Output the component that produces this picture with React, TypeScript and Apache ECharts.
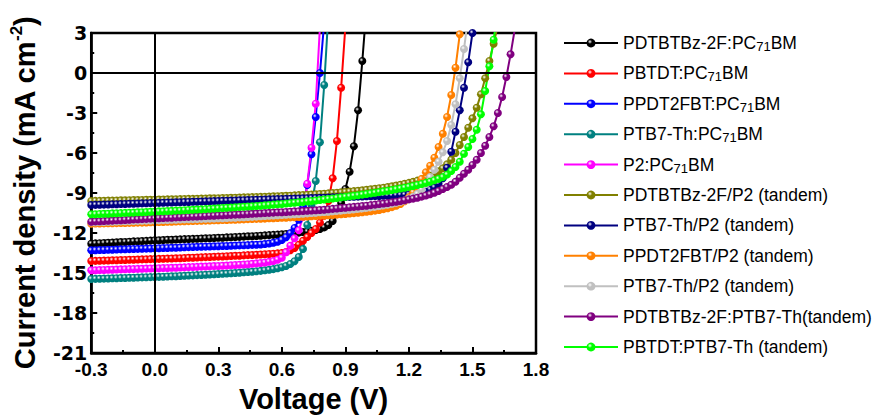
import React, { useEffect, useRef } from "react";
import * as echarts from "echarts";

// Voltage grid (V)
const VOLTAGE = [
  -0.3, -0.28, -0.26, -0.24, -0.22, -0.2, -0.18, -0.16, -0.14, -0.12,
  -0.1, -0.08, -0.06, -0.04, -0.02, 0.0, 0.02, 0.04, 0.06, 0.08,
  0.1, 0.12, 0.14, 0.16, 0.18, 0.2, 0.22, 0.24, 0.26, 0.28,
  0.3, 0.32, 0.34, 0.36, 0.38, 0.4, 0.42, 0.44, 0.46, 0.48,
  0.5, 0.52, 0.54, 0.56, 0.58, 0.6, 0.62, 0.64, 0.66, 0.68,
  0.7, 0.72, 0.74, 0.76, 0.78, 0.8, 0.82, 0.84, 0.86, 0.88,
  0.9, 0.92, 0.94, 0.96, 0.98, 1.0, 1.02, 1.04, 1.06, 1.08,
  1.1, 1.12, 1.14, 1.16, 1.18, 1.2, 1.22, 1.24, 1.26, 1.28,
  1.3, 1.32, 1.34, 1.36, 1.38, 1.4, 1.42, 1.44, 1.46, 1.48,
  1.5, 1.52, 1.54, 1.56, 1.58, 1.6, 1.62, 1.64, 1.66, 1.68,
  1.7,
];

// Current density (mA cm-2), one value per voltage step
const J_PDTBTBZ_PC71BM = [
  -12.8, -12.78, -12.77, -12.75, -12.73, -12.72, -12.7, -12.68, -12.67, -12.65,
  -12.63, -12.62, -12.6, -12.59, -12.57, -12.55, -12.54, -12.53, -12.51, -12.5,
  -12.49, -12.48, -12.46, -12.45, -12.44, -12.43, -12.41, -12.4, -12.39, -12.37,
  -12.36, -12.35, -12.33, -12.32, -12.3, -12.29, -12.27, -12.25, -12.24, -12.22,
  -12.2, -12.18, -12.16, -12.14, -12.12, -12.1, -12.07, -12.04, -12.01, -11.97,
  -11.93, -11.89, -11.84, -11.78, -11.7, -11.58, -11.4, -11.1, -10.55, -9.75,
  -8.7, -7.4, -5.5, -2.8, 0.9, 5.0,
];
const J_PBTDT_PC71BM = [
  -14.1, -14.09, -14.08, -14.07, -14.06, -14.05, -14.04, -14.03, -14.02, -14.01,
  -14.0, -13.99, -13.98, -13.97, -13.96, -13.95, -13.94, -13.93, -13.92, -13.91,
  -13.9, -13.89, -13.88, -13.86, -13.85, -13.84, -13.82, -13.81, -13.8, -13.78,
  -13.77, -13.76, -13.74, -13.73, -13.71, -13.7, -13.68, -13.66, -13.65, -13.63,
  -13.61, -13.59, -13.57, -13.55, -13.53, -13.5, -13.42, -13.3, -13.12, -12.88,
  -12.58, -12.3, -12.0, -11.7, -11.22, -10.7, -9.6, -7.9, -5.1, -1.1,
  3.5,
];
const J_PPDT2FBT_PC71BM = [
  -13.3, -13.29, -13.28, -13.27, -13.26, -13.25, -13.24, -13.23, -13.22, -13.21,
  -13.2, -13.19, -13.18, -13.17, -13.16, -13.15, -13.14, -13.13, -13.12, -13.11,
  -13.1, -13.09, -13.07, -13.06, -13.05, -13.04, -13.03, -13.02, -13.01, -13.0,
  -12.99, -12.98, -12.97, -12.96, -12.94, -12.93, -12.92, -12.91, -12.89, -12.88,
  -12.86, -12.83, -12.79, -12.73, -12.65, -12.52, -12.32, -12.02, -11.62, -11.0,
  -10.0, -8.4, -6.1, -3.3, 0.0, 3.8,
];
const J_PTB7TH_PC71BM = [
  -15.45, -15.44, -15.43, -15.42, -15.41, -15.4, -15.39, -15.38, -15.37, -15.36,
  -15.35, -15.34, -15.33, -15.32, -15.31, -15.3, -15.29, -15.28, -15.26, -15.25,
  -15.24, -15.22, -15.21, -15.19, -15.18, -15.16, -15.15, -15.13, -15.11, -15.1,
  -15.08, -15.06, -15.04, -15.02, -15.0, -14.98, -14.95, -14.93, -14.9, -14.87,
  -14.84, -14.8, -14.76, -14.71, -14.65, -14.57, -14.47, -14.33, -14.12, -13.8,
  -13.2, -11.4, -9.9, -8.1, -5.2, -0.9, 4.5,
];
const J_P2_PC71BM = [
  -14.8, -14.79, -14.78, -14.77, -14.76, -14.75, -14.74, -14.73, -14.72, -14.71,
  -14.7, -14.69, -14.68, -14.67, -14.66, -14.65, -14.64, -14.63, -14.62, -14.61,
  -14.6, -14.59, -14.58, -14.56, -14.55, -14.54, -14.52, -14.51, -14.5, -14.48,
  -14.47, -14.45, -14.44, -14.42, -14.4, -14.38, -14.36, -14.34, -14.31, -14.28,
  -14.25, -14.21, -14.16, -14.1, -14.0, -13.85, -13.45, -12.95, -12.4, -11.8,
  -10.8, -8.3, -5.6, -2.3, 3.5,
];
const J_PDTBTBZ_P2_TANDEM = [
  -9.6, -9.59, -9.59, -9.58, -9.57, -9.57, -9.56, -9.55, -9.55, -9.54,
  -9.53, -9.53, -9.52, -9.51, -9.51, -9.5, -9.49, -9.49, -9.48, -9.47,
  -9.47, -9.46, -9.45, -9.44, -9.44, -9.43, -9.42, -9.41, -9.4, -9.4,
  -9.39, -9.38, -9.37, -9.36, -9.35, -9.34, -9.33, -9.32, -9.31, -9.3,
  -9.29, -9.28, -9.27, -9.25, -9.24, -9.23, -9.21, -9.2, -9.18, -9.16,
  -9.15, -9.13, -9.11, -9.09, -9.07, -9.05, -9.03, -9.0, -8.98, -8.95,
  -8.92, -8.89, -8.86, -8.83, -8.8, -8.76, -8.72, -8.68, -8.64, -8.6,
  -8.55, -8.5, -8.44, -8.38, -8.31, -8.24, -8.16, -8.07, -7.97, -7.85,
  -7.7, -7.55, -7.38, -7.15, -6.85, -6.5, -6.0, -5.4, -4.8, -4.1,
  -3.4, -2.6, -1.6, -0.4, 0.9, 2.2, 3.6,
];
const J_PTB7TH_P2_TANDEM_A = [
  -9.9, -9.89, -9.88, -9.87, -9.86, -9.85, -9.84, -9.83, -9.82, -9.81,
  -9.8, -9.79, -9.78, -9.77, -9.76, -9.75, -9.74, -9.73, -9.72, -9.71,
  -9.7, -9.69, -9.68, -9.67, -9.66, -9.65, -9.64, -9.63, -9.62, -9.61,
  -9.6, -9.59, -9.58, -9.57, -9.56, -9.55, -9.54, -9.53, -9.52, -9.51,
  -9.5, -9.49, -9.48, -9.47, -9.46, -9.45, -9.44, -9.43, -9.42, -9.41,
  -9.4, -9.39, -9.38, -9.37, -9.36, -9.35, -9.34, -9.33, -9.32, -9.31,
  -9.3, -9.29, -9.28, -9.27, -9.26, -9.25, -9.24, -9.23, -9.22, -9.21,
  -9.2, -9.19, -9.17, -9.15, -9.13, -9.1, -9.06, -9.01, -8.94, -8.85,
  -8.73, -8.57, -8.3, -7.9, -7.1, -5.9, -4.4, -2.8, -1.1, 0.8,
  3.0, 5.3,
];
const J_PPDT2FBT_P2_TANDEM = [
  -11.3, -11.29, -11.29, -11.28, -11.27, -11.27, -11.26, -11.25, -11.25, -11.24,
  -11.23, -11.22, -11.22, -11.21, -11.2, -11.19, -11.18, -11.17, -11.16, -11.15,
  -11.14, -11.13, -11.12, -11.11, -11.1, -11.09, -11.08, -11.07, -11.06, -11.05,
  -11.04, -11.03, -11.02, -11.01, -11.0, -10.99, -10.98, -10.96, -10.95, -10.94,
  -10.93, -10.92, -10.9, -10.89, -10.88, -10.86, -10.85, -10.83, -10.82, -10.8,
  -10.78, -10.77, -10.75, -10.73, -10.71, -10.69, -10.67, -10.65, -10.62, -10.6,
  -10.57, -10.54, -10.51, -10.48, -10.45, -10.41, -10.37, -10.32, -10.27, -10.21,
  -10.14, -10.06, -9.96, -9.82, -9.62, -9.32, -8.95, -8.5, -7.95, -7.45,
  -6.95, -6.35, -5.55, -4.55, -3.3, -1.65, 0.4, 2.9, 5.5,
];
const J_PTB7TH_P2_TANDEM_B = [
  -11.2, -11.19, -11.18, -11.17, -11.16, -11.15, -11.14, -11.13, -11.12, -11.11,
  -11.1, -11.09, -11.08, -11.07, -11.06, -11.05, -11.04, -11.03, -11.02, -11.01,
  -11.0, -10.99, -10.98, -10.97, -10.96, -10.95, -10.94, -10.93, -10.92, -10.91,
  -10.9, -10.89, -10.88, -10.86, -10.85, -10.83, -10.82, -10.8, -10.79, -10.77,
  -10.75, -10.73, -10.71, -10.69, -10.67, -10.65, -10.63, -10.61, -10.59, -10.57,
  -10.55, -10.53, -10.5, -10.48, -10.45, -10.43, -10.4, -10.37, -10.34, -10.31,
  -10.28, -10.25, -10.22, -10.18, -10.14, -10.1, -10.06, -10.02, -9.97, -9.92,
  -9.87, -9.81, -9.74, -9.66, -9.56, -9.44, -9.28, -9.06, -8.74, -8.32,
  -7.8, -7.25, -6.65, -5.95, -5.1, -3.9, -2.35, -0.4, 1.8, 4.2,
];
const J_PDTBTBZ_PTB7TH_TANDEM = [
  -11.15, -11.13, -11.12, -11.1, -11.08, -11.07, -11.05, -11.04, -11.02, -11.0,
  -10.98, -10.97, -10.95, -10.94, -10.92, -10.91, -10.89, -10.88, -10.86, -10.85,
  -10.83, -10.82, -10.8, -10.79, -10.77, -10.76, -10.74, -10.73, -10.71, -10.7,
  -10.68, -10.67, -10.65, -10.64, -10.62, -10.61, -10.59, -10.58, -10.56, -10.54,
  -10.52, -10.5, -10.49, -10.47, -10.45, -10.44, -10.42, -10.4, -10.38, -10.37,
  -10.35, -10.33, -10.31, -10.29, -10.27, -10.25, -10.22, -10.19, -10.16, -10.13,
  -10.1, -10.07, -10.04, -10.01, -9.98, -9.95, -9.91, -9.87, -9.83, -9.79,
  -9.75, -9.7, -9.65, -9.6, -9.54, -9.48, -9.42, -9.35, -9.27, -9.19,
  -9.1, -8.98, -8.85, -8.7, -8.55, -8.38, -8.15, -7.85, -7.55, -7.25,
  -6.9, -6.5, -6.0, -5.45, -4.8, -4.0, -3.0, -1.8, -0.3, 1.4,
  3.3,
];
const J_PBTDT_PTB7TH_TANDEM = [
  -10.6, -10.59, -10.57, -10.56, -10.55, -10.53, -10.52, -10.51, -10.49, -10.48,
  -10.47, -10.45, -10.44, -10.43, -10.41, -10.4, -10.38, -10.37, -10.35, -10.34,
  -10.32, -10.31, -10.29, -10.27, -10.26, -10.24, -10.23, -10.21, -10.19, -10.17,
  -10.15, -10.13, -10.11, -10.09, -10.07, -10.05, -10.03, -10.01, -9.99, -9.97,
  -9.95, -9.92, -9.9, -9.87, -9.85, -9.82, -9.79, -9.76, -9.73, -9.7,
  -9.67, -9.63, -9.6, -9.56, -9.53, -9.49, -9.45, -9.41, -9.37, -9.33,
  -9.29, -9.25, -9.21, -9.17, -9.12, -9.08, -9.03, -8.98, -8.93, -8.88,
  -8.83, -8.78, -8.72, -8.66, -8.6, -8.54, -8.47, -8.4, -8.32, -8.24,
  -8.15, -8.05, -7.94, -7.81, -7.62, -7.35, -7.05, -6.65, -6.05, -5.55,
  -4.95, -4.25, -3.1, -1.35, 0.5, 2.5, 4.7,
];

const SERIES_NAMES = [
  "PDTBTBz-2F:PC71BM",
  "PBTDT:PC71BM",
  "PPDT2FBT:PC71BM",
  "PTB7-Th:PC71BM",
  "P2:PC71BM",
  "PDTBTBz-2F/P2 (tandem)",
  "PTB7-Th/P2 (tandem)",
  "PPDT2FBT/P2 (tandem)",
  "PTB7-Th/P2 (tandem) ",
  "PDTBTBz-2F:PTB7-Th(tandem)",
  "PBTDT:PTB7-Th (tandem)",
];
const SERIES_VALUES = [
  J_PDTBTBZ_PC71BM,
  J_PBTDT_PC71BM,
  J_PPDT2FBT_PC71BM,
  J_PTB7TH_PC71BM,
  J_P2_PC71BM,
  J_PDTBTBZ_P2_TANDEM,
  J_PTB7TH_P2_TANDEM_A,
  J_PPDT2FBT_P2_TANDEM,
  J_PTB7TH_P2_TANDEM_B,
  J_PDTBTBZ_PTB7TH_TANDEM,
  J_PBTDT_PTB7TH_TANDEM,
];
const SERIES_COLORS = [
  "#000000",
  "#FF0000",
  "#0000FF",
  "#008080",
  "#FF00FF",
  "#808000",
  "#000080",
  "#FF8000",
  "#C0C0C0",
  "#800080",
  "#00FF00",
];

const X_MIN = -0.3;
const X_MAX = 1.8;
const X_STEP = 0.3;
const Y_MIN = -21;
const Y_MAX = 3;
const Y_STEP = 3;

function sphere(c: string) {
  return new echarts.graphic.RadialGradient(0.38, 0.35, 0.62, [
    { offset: 0, color: "#ffffff" },
    { offset: 0.4, color: c },
    { offset: 1, color: c },
  ]);
}

export default function App() {
  const ref = useRef<HTMLDivElement>(null);
  useEffect(() => {
    if (!ref.current) return;
    const chart = echarts.init(ref.current, undefined, { renderer: "svg" });
    const series: any[] = SERIES_NAMES.map((name, k) => ({
      name,
      type: "line",
      data: SERIES_VALUES[k].map((j, i) => [VOLTAGE[i], j]),
      symbol: "circle",
      symbolSize: 8,
      showSymbol: true,
      clip: true,
      lineStyle: { color: SERIES_COLORS[k], width: 2 },
      itemStyle: { color: sphere(SERIES_COLORS[k]) },
      emphasis: { disabled: true },
      z: 3,
    }));
    series[0].markLine = {
      silent: true,
      symbol: ["none", "none"],
      label: { show: false },
      lineStyle: { color: "#000", width: 2, type: "solid" },
      emphasis: { disabled: true },
      data: [{ xAxis: 0 }, { yAxis: 0 }],
    };
    chart.setOption({
      animation: false,
      backgroundColor: "#ffffff",
      grid: {
        left: 90,
        right: 339,
        top: 33,
        bottom: 63,
        show: true,
        borderColor: "#000",
        borderWidth: 2.5,
        backgroundColor: "transparent",
      },
      xAxis: {
        type: "value",
        min: X_MIN,
        max: X_MAX,
        interval: X_STEP,
        axisLine: { show: true, onZero: false, lineStyle: { color: "#000", width: 2.5 } },
        axisTick: { show: true, inside: true, length: 6, lineStyle: { color: "#000", width: 2 } },
        minorTick: { show: true, splitNumber: 2, length: 3, lineStyle: { color: "#000", width: 2 } },
        splitLine: { show: false },
        axisLabel: {
          formatter: (v: number) => v.toFixed(1),
          color: "#000",
          fontSize: 19,
          lineHeight: 16,
          fontWeight: "bold",
          fontFamily: "Liberation Sans",
          margin: 8,
        },
        name: "Voltage (V)",
        nameLocation: "middle",
        nameGap: 31,
        nameTextStyle: { color: "#000", fontSize: 29, fontWeight: "bold", fontFamily: "Liberation Sans" },
      },
      yAxis: {
        type: "value",
        min: Y_MIN,
        max: Y_MAX,
        interval: Y_STEP,
        axisLine: { show: true, onZero: false, lineStyle: { color: "#000", width: 2.5 } },
        axisTick: { show: true, inside: true, length: 6, lineStyle: { color: "#000", width: 2 } },
        minorTick: { show: true, splitNumber: 2, length: 3, lineStyle: { color: "#000", width: 2 } },
        splitLine: { show: false },
        axisLabel: {
          formatter: (v: number) => String(Math.round(v)),
          color: "#000",
          fontSize: 19,
          lineHeight: 15,
          fontWeight: "bold",
          fontFamily: "DejaVu Sans",
          margin: 4,
        },
        name: "Current density (mA cm{s|-2})",
        nameLocation: "middle",
        nameRotate: 90,
        nameGap: 44,
        nameTextStyle: {
          color: "#000",
          fontSize: 29,
          fontWeight: "bold",
          fontFamily: "Liberation Sans",
          lineHeight: 34,
          rich: {
            s: {
              color: "#000",
              fontSize: 17,
              fontWeight: "bold",
              fontFamily: "Liberation Sans",
              lineHeight: 18,
              verticalAlign: "top",
            },
          },
        },
      },
      legend: {
        orient: "vertical",
        left: 563,
        top: 33,
        padding: 0,
        itemWidth: 54,
        itemHeight: 11,
        itemGap: 10.4,
        selectedMode: false,
        data: SERIES_NAMES,
        formatter: (n: string) => n.trim().replace("PC71BM", "PC{sub|71}BM"),
        textStyle: {
          color: "#000",
          fontSize: 17.5,
          fontFamily: "Liberation Sans",
          lineHeight: 20,
          rich: {
            sub: {
              color: "#000",
              fontSize: 13,
              fontFamily: "Liberation Sans",
              lineHeight: 16,
              verticalAlign: "bottom",
            },
          },
        },
      },
      series,
    });
    return () => chart.dispose();
  }, []);
  return (
    <div
      ref={ref}
      style={{ position: "absolute", left: 0, top: 0, width: 875, height: 418 }}
    />
  );
}
